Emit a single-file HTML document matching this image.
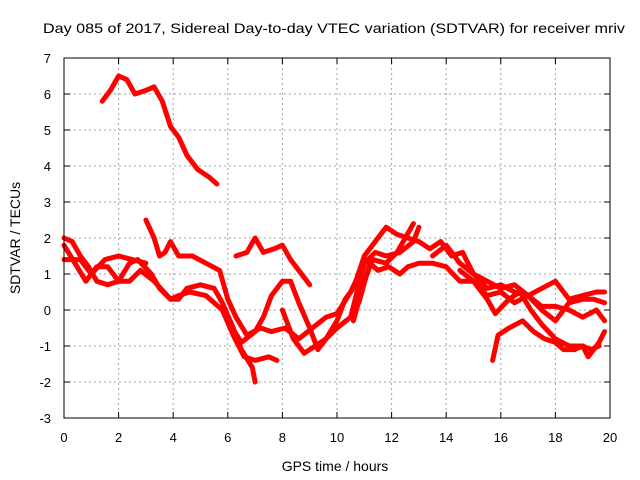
<!DOCTYPE html>
<html><head><meta charset="utf-8"><style>
body{margin:0;background:#fff;}
svg{display:block;font-family:"Liberation Sans",sans-serif;}
</style></head><body>
<svg id="chart" width="640" height="480">
<text x="334" y="33" font-size="14" textLength="582" lengthAdjust="spacingAndGlyphs" text-anchor="middle">Day 085 of 2017, Sidereal Day-to-day VTEC variation (SDTVAR) for receiver mriv</text>
<text x="335" y="471" font-size="14" text-anchor="middle">GPS time / hours</text>
<text transform="translate(20,238) rotate(-90)" font-size="14" text-anchor="middle">SDTVAR / TECUs</text>
<g id="grid"></g><g id="ticks"></g><g id="series"></g>
<rect x="64" y="58" width="546" height="360" fill="none" stroke="#000" stroke-width="1"/>
</svg>
<script>
const xTicks=[0,2,4,6,8,10,12,14,16,18,20];
const yTicks=[-3,-2,-1,0,1,2,3,4,5,6,7];
const s1=[[1.4,5.8],[1.7,6.1],[2.0,6.5],[2.3,6.4],[2.6,6.0],[3.0,6.1],[3.3,6.2],[3.6,5.8],[3.9,5.1],[4.2,4.8],[4.5,4.3],[4.9,3.9],[5.3,3.7],[5.6,3.5]];
const s2=[[0,2.0],[0.3,1.9],[0.6,1.5],[0.9,1.2],[1.2,0.8],[1.6,0.7],[2.0,0.8],[2.4,1.3],[2.7,1.4],[3.2,1.0],[3.5,0.6],[3.9,0.3],[4.2,0.3],[4.5,0.6],[5.0,0.7],[5.5,0.6],[5.8,0.2],[6.2,-0.5],[6.5,-1.1],[6.9,-1.6],[7.0,-2.0]];
const s3=[[0,1.8],[0.4,1.3],[0.8,0.8],[1.2,1.2],[1.6,1.2],[2.0,0.8],[2.4,0.8],[2.8,1.1],[3.3,0.8],[3.9,0.3],[4.2,0.4],[4.6,0.5],[5.2,0.4],[5.8,0.0],[6.2,-0.7],[6.6,-1.3],[7.0,-1.4],[7.5,-1.3],[7.8,-1.4]];
const s4=[[3.0,2.5],[3.3,2.0],[3.5,1.5],[3.7,1.6],[3.9,1.9],[4.2,1.5],[4.7,1.5],[5.2,1.3],[5.7,1.1],[6.0,0.3],[6.3,-0.2],[6.7,-0.7],[7.2,-0.5],[7.6,-0.6],[8.1,-0.5],[8.6,-0.8],[9.1,-0.5],[9.6,-0.2],[10.0,-0.1],[10.5,0.5],[11.0,1.3]];
const s5=[[6.3,1.5],[6.7,1.6],[7.0,2.0],[7.3,1.6],[7.7,1.7],[8.0,1.8],[8.3,1.4],[8.7,1.0],[9.0,0.7]];
const s6=[[6.0,-0.3],[6.5,-0.9],[7.0,-0.6],[7.3,-0.2],[7.6,0.4],[8.0,0.8],[8.3,0.8],[8.6,0.2],[9.0,-0.5],[9.3,-1.1],[9.6,-0.8],[10.0,-0.3],[10.3,0.3],[10.6,0.6],[11.0,1.5],[11.5,2.0],[11.8,2.3],[12.2,2.1],[12.6,2.0],[13.0,1.9],[13.4,1.7],[13.8,1.9],[14.2,1.5],[14.6,1.6],[15.0,1.0],[15.5,0.6],[16.0,0.7],[16.5,0.5],[17.0,0.4],[17.5,0.6],[18.0,0.8],[18.5,0.3],[19.0,0.4],[19.5,0.5],[19.8,0.5]];
const s7=[[8.0,0.0],[8.4,-0.8],[8.8,-1.2],[9.2,-1.0],[9.6,-0.8],[10.0,-0.5],[10.5,-0.2],[10.8,0.7],[11.0,1.3],[11.4,1.6],[11.8,1.5],[12.3,1.6],[12.8,1.9],[13.0,2.3]];
const s8=[[10.8,0.2],[11.2,1.3],[11.5,1.1],[11.9,1.2],[12.3,1.0],[12.6,1.2],[13.0,1.3],[13.5,1.3],[14.0,1.2],[14.5,0.8],[15.0,0.8],[15.5,0.4],[16.0,0.5],[16.5,0.2],[17.0,0.4],[17.5,0.0],[18.0,-0.3],[18.5,0.2],[19.0,0.3],[19.4,0.3],[19.8,0.2]];
const s9=[[10.6,-0.3],[11.0,0.8],[11.3,1.4],[11.8,1.3],[12.2,1.6],[12.5,2.0],[12.8,2.4]];
const s10=[[15.7,-1.4],[15.9,-0.7],[16.3,-0.5],[16.8,-0.3],[17.2,-0.6],[17.6,-0.8],[18.0,-0.9],[18.3,-1.1],[18.7,-1.1],[19.0,-1.0],[19.3,-1.1],[19.6,-1.0]];
const s11=[[14.5,1.1],[15.0,0.8],[15.5,0.3],[15.8,-0.1],[16.3,0.3],[16.7,0.5],[17.1,0.0],[17.5,-0.4],[18.0,-0.8],[18.5,-1.0],[19.0,-1.0],[19.2,-1.3],[19.6,-0.9],[19.8,-0.6]];
const s12=[[13.5,1.5],[14.0,1.8],[14.5,1.3],[15.0,1.0],[15.5,0.8],[16.0,0.6],[16.5,0.7],[17.0,0.4],[17.5,0.1],[18.0,0.1],[18.5,0.0],[19.0,-0.2],[19.5,0.0],[19.8,-0.3]];
const s13=[[0,1.4],[0.6,1.4],[1.0,1.0],[1.5,1.4],[2.0,1.5],[2.5,1.4],[3.0,1.3]];
const allSeries=[s1,s2,s3,s4,s5,s6,s7,s8,s9,s10,s11,s12,s13];
const NS='http://www.w3.org/2000/svg';
const X=v=>64+v*(546/20), Y=v=>418-(v+3)*36;
const grid=document.getElementById('grid'), ticks=document.getElementById('ticks'), ser=document.getElementById('series');
function mk(t,a,p){const e=document.createElementNS(NS,t);for(const k in a)e.setAttribute(k,a[k]);p.appendChild(e);return e;}
xTicks.forEach(v=>{
  if(v>0&&v<20){const g=mk('line',{x1:X(v),x2:X(v),y1:58,y2:418,stroke:'#a0a0a0','stroke-dasharray':'2,3'},grid);
  
  }
  mk('line',{x1:X(v),x2:X(v),y1:418,y2:412,stroke:'#000'},ticks);
  mk('line',{x1:X(v),x2:X(v),y1:58,y2:64,stroke:'#000'},ticks);
  const t=mk('text',{x:X(v),y:442,'font-size':13,'text-anchor':'middle'},ticks);t.textContent=v;
  
  
});
yTicks.forEach(v=>{
  if(v>-3&&v<7){const g=mk('line',{x1:64,x2:610,y1:Y(v),y2:Y(v),stroke:'#a0a0a0','stroke-dasharray':'2,3'},grid);
  
  }
  mk('line',{x1:64,x2:70,y1:Y(v),y2:Y(v),stroke:'#000'},ticks);
  mk('line',{x1:610,x2:604,y1:Y(v),y2:Y(v),stroke:'#000'},ticks);
  const t=mk('text',{x:51,y:Y(v)+5,'font-size':13,'text-anchor':'end'},ticks);t.textContent=v;
  
  
});
allSeries.forEach((s,i)=>{
  const p=mk('polyline',{points:s.map(d=>X(d[0])+','+Y(d[1])).join(' '),fill:'none',stroke:'#ff0000','stroke-width':5,'stroke-linejoin':'round','stroke-linecap':'round'},ser);
  
  
});
</script>
</body></html>
